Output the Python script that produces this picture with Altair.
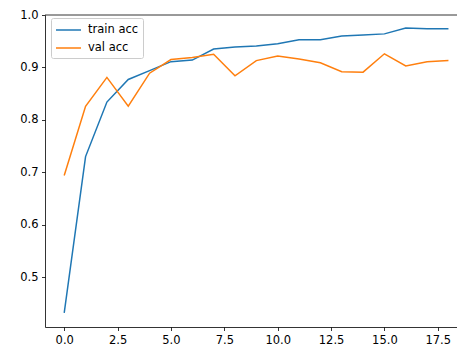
import altair as alt
import pandas as pd

epochs = list(range(19))
train_acc = [0.432, 0.730, 0.834, 0.877, 0.894, 0.911, 0.914, 0.935, 0.939, 0.941,
             0.945, 0.953, 0.953, 0.960, 0.962, 0.964, 0.975, 0.974, 0.974]
val_acc = [0.694, 0.826, 0.881, 0.826, 0.889, 0.915, 0.919, 0.925, 0.884, 0.913,
           0.922, 0.916, 0.909, 0.892, 0.891, 0.926, 0.903, 0.911, 0.913]
series_names = ["train acc", "val acc"]
colors = ["#1f77b4", "#ff7f0e"]
x_ticks = [0.0, 2.5, 5.0, 7.5, 10.0, 12.5, 15.0, 17.5]
y_ticks = [0.5, 0.6, 0.7, 0.8, 0.9, 1.0]

rows = []
for name, vals in zip(series_names, [train_acc, val_acc]):
    for e, v in zip(epochs, vals):
        rows.append({"epoch": e, "acc": v, "series": name})
df = pd.DataFrame(rows)

W, H = 412, 312

lines = alt.Chart(df).mark_line(strokeWidth=1.5, clip=True).encode(
    x=alt.X("epoch:Q",
            scale=alt.Scale(domain=[-0.9, 18.4], nice=False, zero=False),
            axis=alt.Axis(values=x_ticks, format=".1f", title=None, grid=False)),
    y=alt.Y("acc:Q",
            scale=alt.Scale(domain=[0.405, 1.0], nice=False, zero=False),
            axis=alt.Axis(values=y_ticks, format=".1f", title=None, grid=False)),
    color=alt.Color("series:N",
                    scale=alt.Scale(domain=series_names, range=colors),
                    legend=alt.Legend(
                        title=None, orient="none", legendX=6, legendY=3,
                        symbolType="M-1,0L2.57,0", symbolSize=196,
                        symbolStrokeWidth=1.5, labelOffset=17,
                        labelFontSize=11.5, labelFont="DejaVu Sans", labelColor="black",
                        fillColor="rgba(255,255,255,0.8)", strokeColor="#cccccc",
                        cornerRadius=2, padding=4, rowPadding=4)),
)

top_spine = alt.Chart(pd.DataFrame({"a": [0]})).mark_rule(
    color="black", strokeWidth=0.8
).encode(x=alt.value(0), x2=alt.value(W), y=alt.value(0))

chart = alt.layer(lines, top_spine).properties(
    width=W, height=H,
    autosize=alt.AutoSizeParams(type="none"),
    padding={"left": 37, "top": 7, "right": 0, "bottom": 18},
).configure_view(
    stroke="transparent"
).configure_axis(
    domainColor="black", domainWidth=0.8,
    tickColor="black", tickWidth=0.8, tickSize=3.5,
    labelFontSize=11.5, labelFont="DejaVu Sans", labelColor="black",
    labelPadding=3.5,
)

chart.save("out.html", embed_options={"renderer": "svg", "actions": False})
